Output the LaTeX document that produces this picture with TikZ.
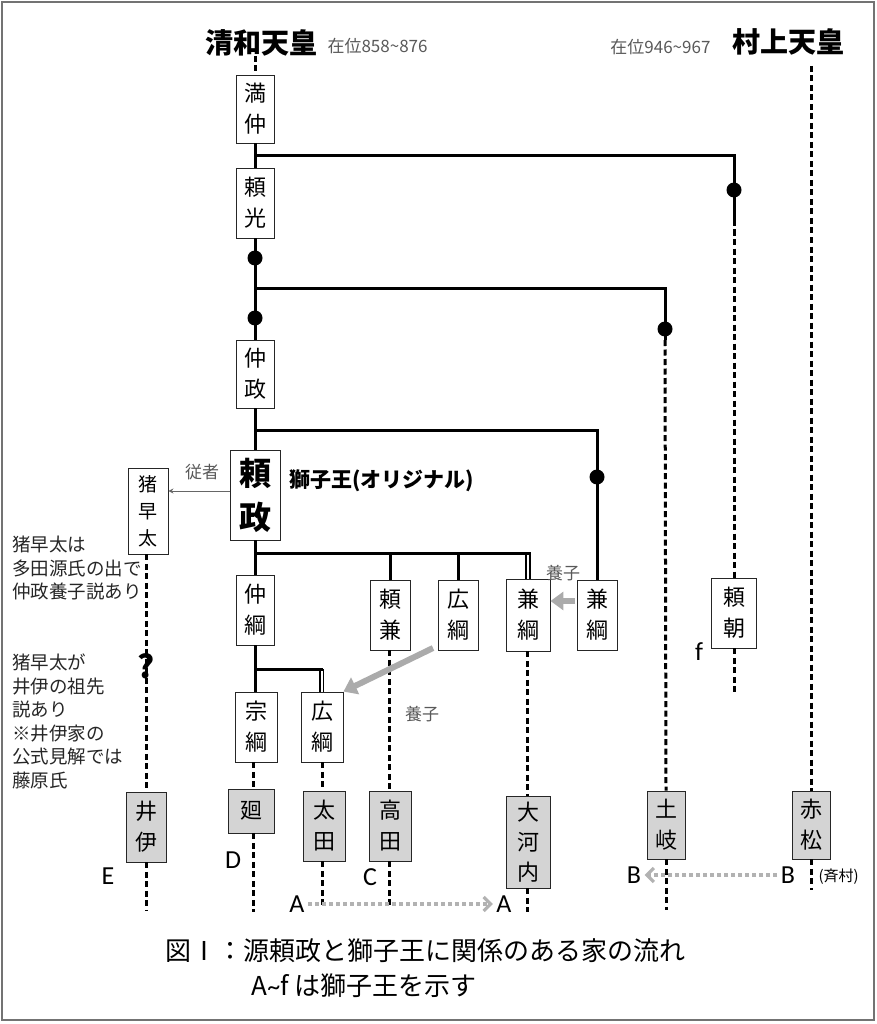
\documentclass[tikz,border=0pt]{standalone}
\usepackage{fontspec}
\newfontfamily\jp{Noto Sans CJK JP}
\newfontfamily\lat{Carlito}
\usetikzlibrary{arrows.meta}
\tikzset{
 fam/.style={draw=black!85, line width=0.9pt, fill=white, inner sep=0pt, align=center, font=\jp\fontsize{22}{31}\selectfont},
 famg/.style={fam, fill=black!17},
 sline/.style={line width=3pt},
 dline/.style={line width=3pt, dash pattern=on 6pt off 3.5pt},
 dbl/.style={line width=1.7pt},
 dotc/.style={circle, fill=black, inner sep=0pt, minimum size=15pt},
 adopt/.style={draw=black!33, line width=6pt, -{Triangle[width=18pt,length=13pt]}},
 lab/.style={font=\lat\fontsize{26}{26}\selectfont},
 graytxt/.style={text=black!65, font=\jp\fontsize{17}{17}\selectfont},
 note/.style={align=left, anchor=north west, font=\jp\fontsize{18.5}{23.5}\selectfont, text=black!85, inner sep=0pt},
 dotarrow/.style={draw=black!30, line width=3.2pt, dash pattern=on 4pt off 3pt, -{Straight Barb[length=7pt,width=14pt]}},
}
\begin{document}
\begin{tikzpicture}[x=1pt,y=-1pt]
\useasboundingbox (0,0) rectangle (876,1024);
\draw[black!55, line width=1.5pt] (2,2) rectangle (874,1020);

% titles
\node[font=\jp\bfseries\fontsize{28}{28}\selectfont] (seiwa) at (261,43) {清和天皇};
\node[anchor=west, graytxt] (seiwaY) at (324,46) {在位858\textasciitilde 876};
\node[font=\jp\bfseries\fontsize{28}{28}\selectfont] (murakami) at (788,42) {村上天皇};
\node[anchor=east, graytxt] (murakamiY) at (714,47) {在位946\textasciitilde 967};

% family boxes
\node[fam, minimum width=38, minimum height=68] (manju) at (255,109) {満\\仲};
\node[fam, minimum width=38, minimum height=70] (yorimitsu) at (255,203) {頼\\光};
\node[fam, minimum width=38, minimum height=68] (nakamasa) at (255,374) {仲\\政};
\node[fam, minimum width=50, minimum height=90, font=\jp\bfseries\fontsize{32}{44}\selectfont] (yorimasa) at (255,495) {頼\\政};
\node[fam, minimum width=40, minimum height=86, font=\jp\fontsize{19}{27}\selectfont] (inohayata) at (148,511) {猪\\早\\太};
\node[fam, minimum width=38, minimum height=70] (nakatsuna) at (255,610) {仲\\綱};
\node[fam, minimum width=40, minimum height=70] (yorikane) at (390,615) {頼\\兼};
\node[fam, minimum width=40, minimum height=70] (hirotsunaA) at (458,615) {広\\綱};
\node[fam, minimum width=44, minimum height=72] (kanetsunaA) at (528,615) {兼\\綱};
\node[fam, minimum width=40, minimum height=70] (kanetsunaB) at (597,615) {兼\\綱};
\node[fam, minimum width=45, minimum height=70] (yoritomo) at (734,613) {頼\\朝};
\node[fam, minimum width=42, minimum height=70] (munetsuna) at (256,727) {宗\\綱};
\node[fam, minimum width=42, minimum height=70] (hirotsunaB) at (322,727) {広\\綱};

\node[famg, minimum width=40, minimum height=70] (ii) at (146,827) {井\\伊};
\node[famg, minimum width=46, minimum height=44] (meguri) at (251,811) {廻};
\node[famg, minimum width=42, minimum height=70] (ota) at (324,826) {太\\田};
\node[famg, minimum width=42, minimum height=70] (takada) at (390,826) {高\\田};
\node[famg, minimum width=44, minimum height=92, font=\jp\fontsize{22}{30}\selectfont] (okochi) at (528,842) {大\\河\\内};
\node[famg, minimum width=38, minimum height=68] (toki) at (666,825) {土\\岐};
\node[famg, minimum width=38, minimum height=68] (akamatsu) at (811,825) {赤\\松};

% dots
\node[dotc] (d1) at (734,190) {};
\node[dotc] (d2) at (255,258) {};
\node[dotc] (d3) at (255,318) {};
\node[dotc] (d4) at (665,329) {};
\node[dotc] (d5) at (597,477) {};

% branch coordinates
\coordinate (b1) at (255,156);
\coordinate (b2) at (255,288);
\coordinate (b3) at (255,430);
\coordinate (b4) at (255,553);
\coordinate (b4e) at (531,553);
\coordinate (b5) at (255,669);
\coordinate (b5e) at (323,669);
\coordinate (s1) at (734,220);
\coordinate (s2) at (665,340);

% dashed ends
\coordinate (seiwaL) at (255,56);
\coordinate (murakamiL) at (811,66);
\coordinate (yoritomoE) at (734,694);
\coordinate (tokiE) at (666,910);
\coordinate (akamatsuE) at (811,890);
\coordinate (iiE) at (146,910);
\coordinate (meguriE) at (253,912);
\coordinate (otaE) at (322,907);
\coordinate (takadaE) at (389,907);
\coordinate (okochiE) at (527,912);

% solid lines
\draw[sline] (manju.south) -- (yorimitsu.north);
\draw[sline] (b1) -| (d1.center);
\draw[sline] (d1.center) -- (s1);
\draw[sline] (yorimitsu.south) -- (d2.center) -- (d3.center) -- (nakamasa.north);
\draw[sline] (b2) -| (d4.center);
\draw[sline] (d4.center) -- (s2);
\draw[sline] (nakamasa.south) -- (yorimasa.north);
\draw[sline] (b3) -| (d5.center);
\draw[sline] (d5.center) -- (kanetsunaB.north);
\draw[sline] (yorimasa.south) -- (nakatsuna.north);
\draw[sline] (b4) -- (b4e);
\draw[sline] (yorikane.north |- b4) -- (yorikane.north);
\draw[sline] (hirotsunaA.north |- b4) -- (hirotsunaA.north);
\draw[dbl] ([xshift=-2]kanetsunaA.north |- b4) -- ([xshift=-2]kanetsunaA.north);
\draw[dbl] ([xshift=2]kanetsunaA.north |- b4) -- ([xshift=2]kanetsunaA.north);
\draw[sline] (nakatsuna.south) -- (munetsuna.north -| nakatsuna.south);
\draw[sline] (b5) -- (b5e);
\draw[dbl] ([xshift=-2]hirotsunaB.north |- b5) -- ([xshift=-2]hirotsunaB.north);
\draw[dbl] ([xshift=1.5]hirotsunaB.north |- b5) -- ([xshift=1.5]hirotsunaB.north);

% dashed lines
\draw[dline] (seiwaL) -- (manju.north);
\draw[dline] (murakamiL) -- (akamatsu.north);
\draw[dline] (akamatsu.south) -- (akamatsuE);
\draw[dline] (s1) -- (yoritomo.north);
\draw[dline] (yoritomo.south) -- (yoritomoE);
\draw[dline] (s2) -- (toki.north);
\draw[dline] (toki.south) -- (tokiE);
\draw[dline] (inohayata.south -| ii.north) -- (ii.north);
\draw[dline] (ii.south) -- (iiE);
\draw[dline] (munetsuna.south -| meguriE) -- (meguri.north -| meguriE);
\draw[dline] (meguri.south -| meguriE) -- (meguriE);
\draw[dline] (hirotsunaB.south -| otaE) -- (ota.north -| otaE);
\draw[dline] (ota.south -| otaE) -- (otaE);
\draw[dline] (yorikane.south -| takadaE) -- (takada.north -| takadaE);
\draw[dline] (takada.south -| takadaE) -- (takadaE);
\draw[dline] (kanetsunaA.south -| okochiE) -- (okochi.north -| okochiE);
\draw[dline] (okochi.south -| okochiE) -- (okochiE);

% question mark
\node[font=\jp\bfseries\fontsize{32}{32}\selectfont, inner sep=0pt] (q) at (146,666) {?};

% adoption arrows
\coordinate (adA) at (433,648);
\coordinate (adB) at (575,601);
\draw[adopt] (adA) -- (hirotsunaB.north east);
\draw[adopt] (adB) -- (kanetsunaA.east |- adB);
\node[graytxt] (yoshiA) at (422,714) {養子};
\node[graytxt] (yoshiB) at (563,573) {養子};

% retainer
\draw[black!60, line width=0.8pt, -{Stealth[length=5pt,width=5pt]}] (yorimasa.west |- 0,491) -- (inohayata.east |- 0,491);
\node[graytxt] (jusha) at (202,472) {従者};
\node[anchor=west, font=\jp\bfseries\fontsize{21}{21}\selectfont] (shishio) at (286,481) {獅子王(オリジナル)};

% notes
\node[note] (note1) at (12,536) {猪早太は\\多田源氏の出で\\仲政養子説あり};
\node[note] (note2) at (12,654) {猪早太が\\井伊の祖先\\説あり\\※井伊家の\\公式見解では\\藤原氏};

% letters
\node[lab] (lE) at (108,876) {E};
\node[lab] (lD) at (233,860) {D};
\node[lab] (lC) at (370,877) {C};
\node[lab] (lA1) at (297,904) {A};
\node[lab] (lA2) at (504,904) {A};
\node[lab] (lB1) at (634,875) {B};
\node[lab] (lB2) at (788,875) {B};
\node[lab] (lf) at (699,652) {f};
\node[font=\jp\fontsize{15}{15}\selectfont, anchor=west] (saimura) at (815,877) {(斉村)};

\draw[dotarrow] (lA1.east) -- (lA2.west);
\draw[dotarrow] (lB2.west) -- (lB1.east);

% caption
\node[anchor=west, font=\jp\fontsize{26}{26}\selectfont] (cap1) at (162,951) {図Ⅰ：源頼政と獅子王に関係のある家の流れ};
\node[anchor=west, font=\jp\fontsize{26}{26}\selectfont] (cap2) at (248,986) {A{\lat\textasciitilde}f は獅子王を示す};
\end{tikzpicture}
\end{document}
